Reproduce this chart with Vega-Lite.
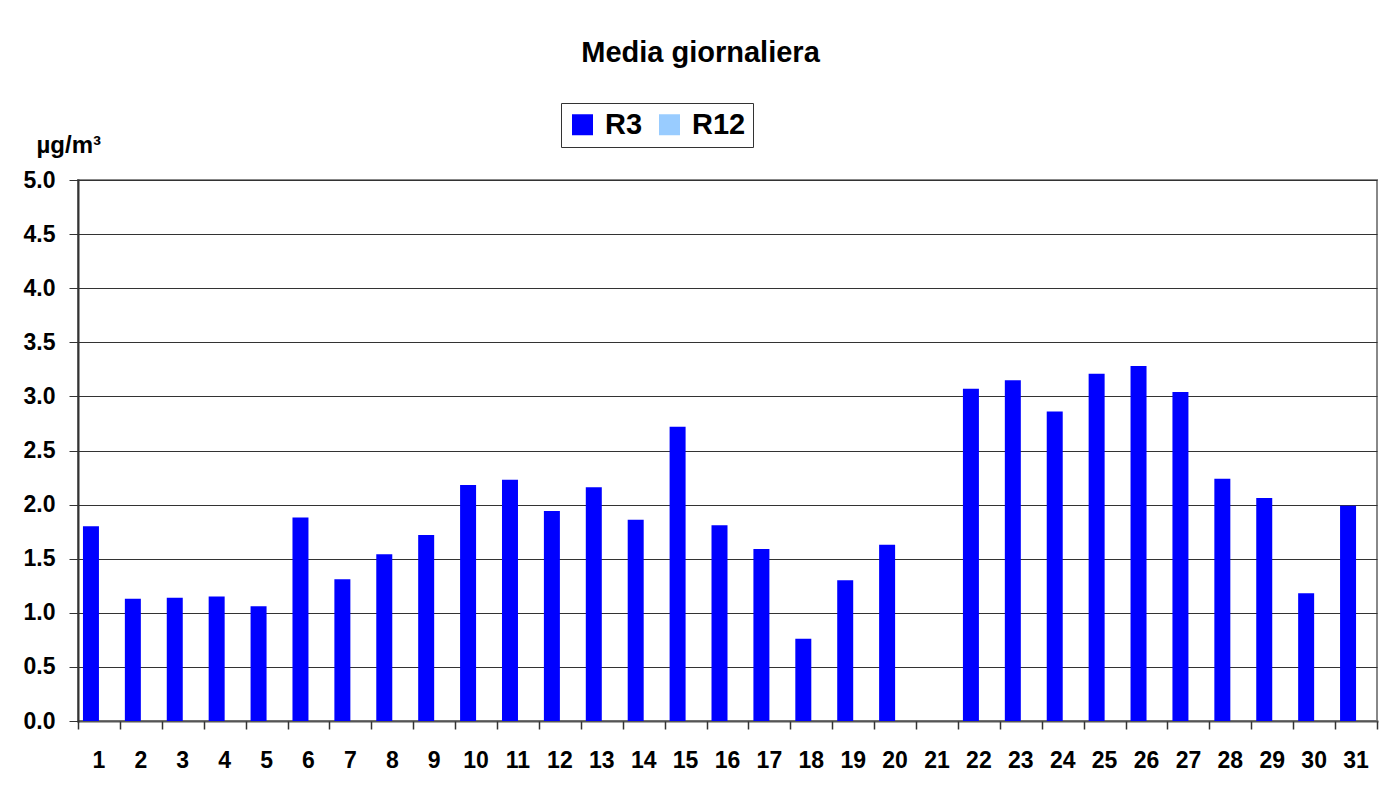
{
  "$schema": "https://vega.github.io/schema/vega-lite/v6.json",
  "autosize": {"type": "none"},
  "width": 1299,
  "height": 541,
  "padding": {"left": 78, "top": 180, "right": 12, "bottom": 87},
  "background": "white",
  "title": {
    "text": "Media giornaliera",
    "font": "Liberation Sans",
    "fontSize": 29,
    "fontWeight": "bold",
    "color": "black",
    "anchor": "middle",
    "frame": "group",
    "dx": -27,
    "offset": 35
  },
  "data": {
    "values": [
      {"day": 1, "series": "R3", "value": 1.80},
      {"day": 2, "series": "R3", "value": 1.13},
      {"day": 3, "series": "R3", "value": 1.14},
      {"day": 4, "series": "R3", "value": 1.15},
      {"day": 5, "series": "R3", "value": 1.06},
      {"day": 6, "series": "R3", "value": 1.88},
      {"day": 7, "series": "R3", "value": 1.31},
      {"day": 8, "series": "R3", "value": 1.54},
      {"day": 9, "series": "R3", "value": 1.72},
      {"day": 10, "series": "R3", "value": 2.18},
      {"day": 11, "series": "R3", "value": 2.23},
      {"day": 12, "series": "R3", "value": 1.94},
      {"day": 13, "series": "R3", "value": 2.16},
      {"day": 14, "series": "R3", "value": 1.86},
      {"day": 15, "series": "R3", "value": 2.72},
      {"day": 16, "series": "R3", "value": 1.81},
      {"day": 17, "series": "R3", "value": 1.59},
      {"day": 18, "series": "R3", "value": 0.76},
      {"day": 19, "series": "R3", "value": 1.30},
      {"day": 20, "series": "R3", "value": 1.63},
      {"day": 21, "series": "R3", "value": null},
      {"day": 22, "series": "R3", "value": 3.07},
      {"day": 23, "series": "R3", "value": 3.15},
      {"day": 24, "series": "R3", "value": 2.86},
      {"day": 25, "series": "R3", "value": 3.21},
      {"day": 26, "series": "R3", "value": 3.28},
      {"day": 27, "series": "R3", "value": 3.04},
      {"day": 28, "series": "R3", "value": 2.24},
      {"day": 29, "series": "R3", "value": 2.06},
      {"day": 30, "series": "R3", "value": 1.18},
      {"day": 31, "series": "R3", "value": 1.99}
    ]
  },
  "layer": [
    {
      "mark": {"type": "bar"},
      "encoding": {
        "x": {
          "field": "day",
          "type": "ordinal",
          "scale": {
            "domain": [1,2,3,4,5,6,7,8,9,10,11,12,13,14,15,16,17,18,19,20,21,22,23,24,25,26,27,28,29,30,31],
            "paddingInner": 0,
            "paddingOuter": 0
          },
          "axis": {
            "title": null,
            "ticks": false,
            "labelAngle": 0,
            "labelFont": "Liberation Sans",
            "labelFontSize": 23,
            "labelFontWeight": "bold",
            "labelColor": "black",
            "labelPadding": 28,
            "domainColor": "#555555",
            "domainWidth": 2,
            "grid": false
          }
        },
        "xOffset": {
          "field": "series",
          "type": "nominal",
          "scale": {"domain": ["R3", "R12"], "paddingInner": 0, "paddingOuter": 0.31}
        },
        "y": {
          "field": "value",
          "type": "quantitative",
          "scale": {"domain": [0, 5], "nice": false},
          "axis": {
            "values": [0, 0.5, 1, 1.5, 2, 2.5, 3, 3.5, 4, 4.5, 5],
            "format": ".1f",
            "title": "µg/m³",
            "titleAngle": 0,
            "titleAlign": "left",
            "titleBaseline": "alphabetic",
            "titleX": -42,
            "titleY": -28,
            "titleFont": "Liberation Sans",
            "titleFontSize": 24,
            "titleFontWeight": "bold",
            "titleColor": "black",
            "labelFont": "Liberation Sans",
            "labelFontSize": 23,
            "labelFontWeight": "bold",
            "labelColor": "black",
            "labelPadding": 14,
            "tickSize": 9,
            "tickColor": "#333333",
            "domainColor": "#333333",
            "domainWidth": 2,
            "grid": true,
            "gridColor": "#333333",
            "gridWidth": 1,
            "gridOpacity": 1
          }
        },
        "color": {
          "field": "series",
          "type": "nominal",
          "scale": {"domain": ["R3", "R12"], "range": ["#0000FF", "#99CCFF"]},
          "legend": {
            "title": null,
            "orient": "none",
            "legendX": 483,
            "legendY": -77,
            "direction": "horizontal",
            "symbolType": "square",
            "symbolSize": 441,
            "symbolStrokeWidth": 0,
            "labelFont": "Liberation Sans",
            "labelFontSize": 29,
            "labelFontWeight": "bold",
            "labelColor": "black",
            "labelOffset": 8,
            "columnPadding": 12,
            "padding": 7,
            "strokeColor": "#333333",
            "fillColor": "white"
          }
        }
      }
    },
    {
      "mark": {"type": "point", "opacity": 0},
      "encoding": {
        "x": {
          "field": "day",
          "type": "quantitative",
          "scale": {"domain": [0.5, 31.5], "nice": false, "zero": false},
          "axis": {
            "values": [0.5,1.5,2.5,3.5,4.5,5.5,6.5,7.5,8.5,9.5,10.5,11.5,12.5,13.5,14.5,15.5,16.5,17.5,18.5,19.5,20.5,21.5,22.5,23.5,24.5,25.5,26.5,27.5,28.5,29.5,30.5,31.5],
            "orient": "bottom",
            "labels": false,
            "title": null,
            "grid": false,
            "domain": false,
            "ticks": true,
            "tickSize": 8,
            "tickColor": "#333333",
            "tickWidth": 1.5
          }
        },
        "y": {"field": "value", "type": "quantitative"}
      }
    }
  ],
  "resolve": {"scale": {"x": "independent"}, "axis": {"x": "independent"}},
  "config": {
    "view": {"stroke": "#888888", "strokeWidth": 2},
    "axis": {"domainCap": "square"}
  }
}
